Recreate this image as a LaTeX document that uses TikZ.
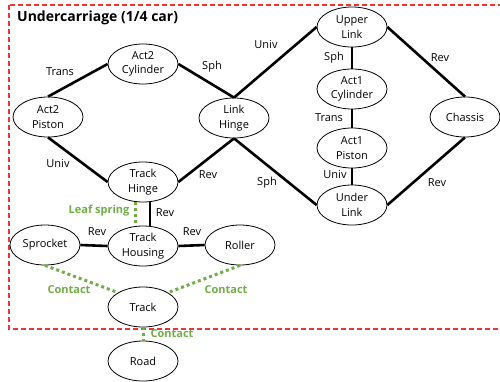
\documentclass[tikz,border=0pt]{standalone}
\usepackage{fontspec}
\setmainfont{Open Sans}
\usetikzlibrary{shapes.geometric}
\definecolor{leafgreen}{RGB}{112,173,71}
\definecolor{framered}{RGB}{240,50,50}

\begin{document}
\begin{tikzpicture}[x=1pt, y=-1pt,
    part/.style={ellipse, draw, line width=0.8pt, minimum width=70pt, minimum height=40pt, inner sep=0pt, align=center, font=\fontsize{11}{14.5}\selectfont},
    joint/.style={line width=2.6pt},
    contact/.style={line width=3pt, dash pattern=on 3pt off 3pt, leafgreen},
    lbl/.style={font=\fontsize{11}{13}\selectfont},
    glbl/.style={font=\fontsize{11}{13}\selectfont\bfseries, text=leafgreen}]

    \useasboundingbox (0,0) rectangle (500,381);

    % Frame
    \draw[draw=framered, line width=1.2pt, dash pattern=on 5pt off 3pt] (9,5) rectangle (504,329);
    \node[font=\fontsize{14}{16}\selectfont\bfseries, anchor=west, inner sep=0pt] (title) at (17,18) {Undercarriage (1/4 car)};

    % Actuator 2 loop
    \node[part] (cyl2) at (143,64) {Act2\\Cylinder};
    \node[part] (pist2) at (48,117) {Act2\\Piston};
    \node[part] (hinge) at (234,118) {Link\\Hinge};
    \node[part] (thinge) at (143,182) {Track\\Hinge};

    % Actuator 1 column
    \node[part] (upper) at (352,27) {Upper\\Link};
    \node[part] (cyl1) at (352,89) {Act1\\Cylinder};
    \node[part] (pist1) at (352,148) {Act1\\Piston};
    \node[part] (under) at (352,205) {Under\\Link};
    \node[part] (chassis) at (465,117) {Chassis};

    % Track
    \node[part] (housing) at (143,246) {Track\\Housing};
    \node[part] (sprocket) at (45,245) {Sprocket};
    \node[part] (roller) at (240,245) {Roller};
    \node[part] (track) at (143,307) {Track};
    \node[part] (road) at (143,361) {Road};

    % Joints
    \draw[joint] (pist2.north) -- (cyl2.west);
    \draw[joint] (cyl2.east) -- (hinge.north);
    \draw[joint] (pist2.south) -- (thinge.west);
    \draw[joint] (thinge.east) -- (hinge.south);
    \draw[joint] (hinge.north) -- (upper.west);
    \draw[joint] (hinge.south) -- (under.west);
    \draw[joint] (upper.south) -- (cyl1.north);
    \draw[joint] (cyl1.south) -- (pist1.north);
    \draw[joint] (pist1.south) -- (under.north);
    \draw[joint] (upper.east) -- (chassis.north);
    \draw[joint] (chassis.south) -- (under.east);
    \draw[joint] ([xshift=7pt]thinge.south) -- ([xshift=7pt]housing.north);
    \draw[joint] (sprocket.east) -- (housing.west);
    \draw[joint] (housing.east) -- (roller.west);

    % Contacts and spring
    \draw[contact] ([xshift=-8pt]thinge.south) -- ([xshift=-8pt]housing.north);
    \draw[contact] (sprocket.south) -- (track.north west);
    \draw[contact] (roller.south) -- (track.north east);
    \draw[contact] (track.south) -- (road.north);

    % Joint labels
    \node[lbl] (l1) at (60,72) {Trans};
    \node[lbl] (l2) at (212,67) {Sph};
    \node[lbl] (l3) at (58,164) {Univ};
    \node[lbl] (l4) at (208,175) {Rev};
    \node[lbl] (l5) at (266,45) {Univ};
    \node[lbl] (l6) at (334,58) {Sph};
    \node[lbl] (l7) at (440,58) {Rev};
    \node[lbl] (l8) at (329,118) {Trans};
    \node[lbl] (l9) at (335,175) {Univ};
    \node[lbl] (l10) at (267,183) {Sph};
    \node[lbl] (l11) at (437,183) {Rev};
    \node[lbl] (l12) at (165,213) {Rev};
    \node[lbl] (l13) at (97,232) {Rev};
    \node[lbl] (l14) at (192,232) {Rev};
    \node[glbl] (g1) at (99,211) {Leaf spring};
    \node[glbl] (g2) at (69,290) {Contact};
    \node[glbl] (g3) at (226,290) {Contact};
    \node[glbl] (g4) at (172,334) {Contact};

\end{tikzpicture}
\end{document}
